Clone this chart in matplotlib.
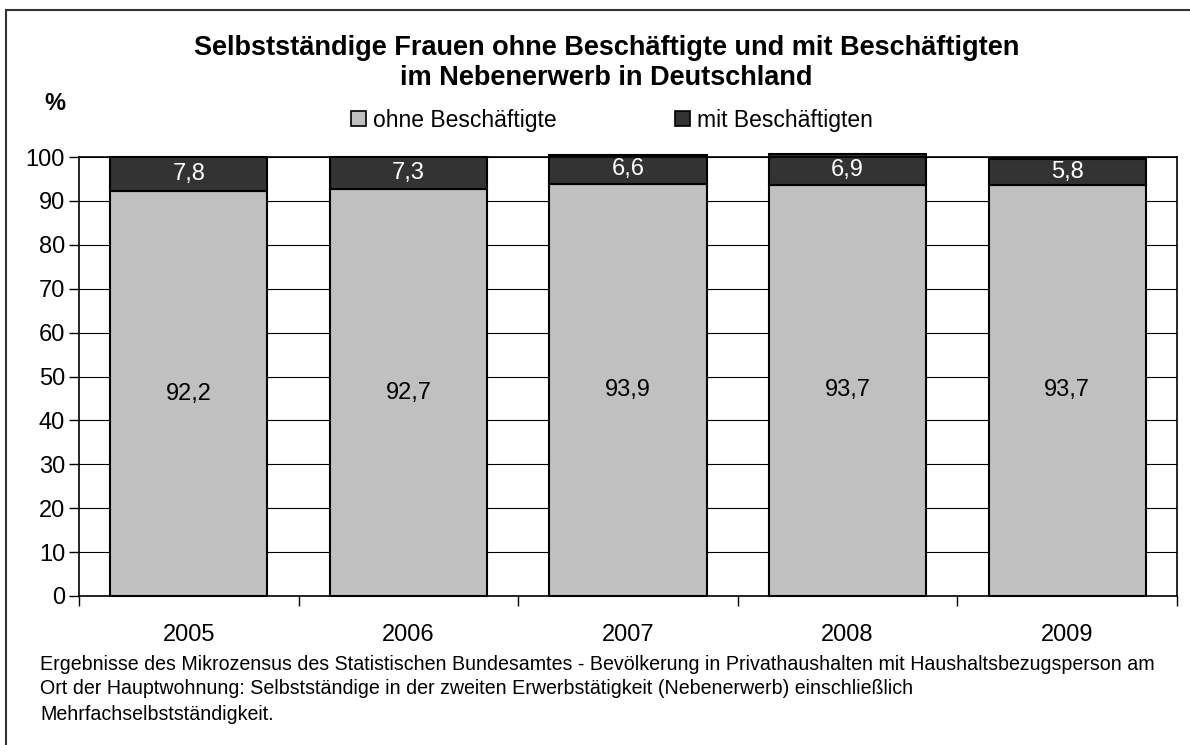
import matplotlib.pyplot as plt
import numpy as np
from matplotlib.patches import Rectangle, Patch

plt.rcParams['font.family'] = ['Liberation Sans', 'DejaVu Sans']

years = ['2005', '2006', '2007', '2008', '2009']
ohne = np.array([92.2, 92.7, 93.9, 93.7, 93.7])
mit = np.array([7.8, 7.3, 6.6, 6.9, 5.8])
ohne_lbl = ['92,2', '92,7', '93,9', '93,7', '93,7']
mit_lbl = ['7,8', '7,3', '6,6', '6,9', '5,8']

light = '#c0c0c0'
dark = '#333333'

fig = plt.figure(figsize=(11.9, 7.45), dpi=100)
ax = fig.add_axes([79/1190, 1 - 596/745, (1177-79)/1190, (596-157)/745])

x = np.arange(len(years))
w = 0.715
ax.set_axisbelow(True)
ax.yaxis.grid(True, color='black', linewidth=0.8)
ax.bar(x, ohne, w, color=light, edgecolor='black', linewidth=1.5, clip_on=False, zorder=2)
ax.bar(x, mit, w, bottom=ohne, color=dark, edgecolor='black', linewidth=1.5, clip_on=False, zorder=2)

for i in range(len(years)):
    ax.text(x[i], ohne[i] / 2, ohne_lbl[i], ha='center', va='center', fontsize=17, color='black', zorder=3)
    ax.text(x[i], ohne[i] + mit[i] / 2, mit_lbl[i], ha='center', va='center', fontsize=17, color='white', zorder=3)

ax.set_xlim(-0.5, 4.5)
ax.set_ylim(0, 100)
ax.set_yticks(np.arange(0, 101, 10))
ax.tick_params(axis='y', labelsize=17, length=7, width=1, pad=3, direction='out')
ax.set_xticks(x)
ax.set_xticklabels(years)
ax.set_xticks(np.arange(-0.5, 5, 1), minor=True)
ax.tick_params(axis='x', which='major', length=0, labelsize=17, pad=20)
ax.tick_params(axis='x', which='minor', length=7, width=1, direction='out')
for s in ax.spines.values():
    s.set_color('black')
    s.set_linewidth(1.2)

fig.text(607/1190, 1 - 48/745, 'Selbstständige Frauen ohne Beschäftigte und mit Beschäftigten',
         ha='center', va='center', fontsize=19.5, fontweight='bold')
fig.text(606/1190, 1 - 78/745, 'im Nebenerwerb in Deutschland',
         ha='center', va='center', fontsize=19.5, fontweight='bold')
fig.text(55/1190, 1 - 103/745, '%', ha='center', va='center', fontsize=17, fontweight='bold')

handles = [Patch(facecolor=light, edgecolor='black', linewidth=1.2),
           Patch(facecolor=dark, edgecolor='black', linewidth=1.2)]
fig.legend(handles, ['ohne Beschäftigte', 'mit Beschäftigten'], loc='center',
           bbox_to_anchor=(612/1190, 1 - 120/745), ncol=2, frameon=False, fontsize=16.5,
           handlelength=0.65, handleheight=0.65, handletextpad=0.3, columnspacing=5.2)

notes = ['Ergebnisse des Mikrozensus des Statistischen Bundesamtes - Bevölkerung in Privathaushalten mit Haushaltsbezugsperson am',
         'Ort der Hauptwohnung: Selbstständige in der zweiten Erwerbstätigkeit (Nebenerwerb) einschließlich',
         'Mehrfachselbstständigkeit.']
for k, line in enumerate(notes):
    fig.text(40/1190, 1 - (664 + 25*k)/745, line, ha='left', va='center', fontsize=14.1)

fig.patches.append(Rectangle((6/1190, -0.1), 1.2, 1.1 - 10/745, transform=fig.transFigure,
                             fill=False, edgecolor='#333333', linewidth=1.5))

fig.savefig('out.png', dpi=100)
